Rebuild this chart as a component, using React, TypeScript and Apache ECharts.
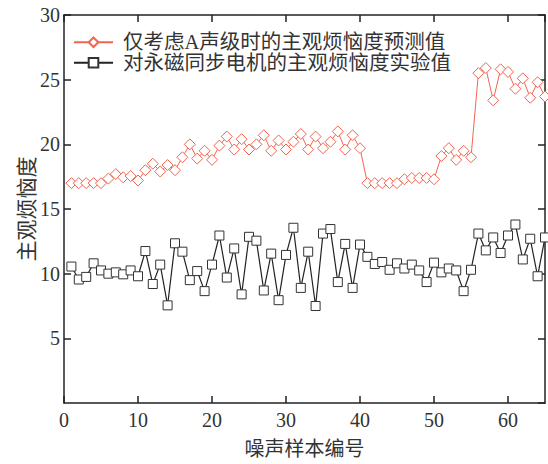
import React, { useEffect, useRef } from "react";
import * as echarts from "echarts";

const sampleIds: number[] = Array.from({ length: 65 }, (_, i) => i + 1);

const predicted: number[] = [
  17.0, 17.0, 17.0, 17.0, 17.0, 17.35, 17.7, 17.45, 17.55, 17.2,
  18.0, 18.5, 17.9, 18.4, 18.0, 19.0, 20.0, 18.9, 19.5, 18.8,
  19.9, 20.6, 19.6, 20.4, 19.6, 20.0, 20.7, 19.5, 20.3, 19.6,
  20.2, 20.8, 19.6, 20.6, 19.7, 20.2, 21.0, 19.6, 20.7, 19.7,
  17.0, 17.0, 17.0, 17.0, 17.0, 17.3, 17.4, 17.4, 17.4, 17.3,
  19.1, 19.7, 18.8, 19.5, 19.0, 25.5, 25.9, 23.4, 25.8, 25.6,
  24.3, 25.1, 23.6, 24.8, 23.7,
];

const measured: number[] = [
  10.55, 9.55, 9.75, 10.8, 10.25, 10.0, 10.1, 9.95, 10.25, 9.8,
  11.75, 9.2, 10.7, 7.55, 12.35, 11.7, 9.5, 10.2, 8.65, 10.7,
  12.95, 9.7, 11.95, 8.4, 12.85, 12.55, 8.7, 11.55, 7.95, 11.45,
  13.55, 8.9, 11.7, 7.5, 13.1, 13.45, 9.35, 12.3, 8.9, 12.25,
  11.3, 10.75, 10.9, 10.3, 10.8, 10.4, 10.7, 10.25, 9.35, 10.85,
  10.1, 10.4, 10.25, 8.65, 10.3, 13.1, 11.8, 12.8, 11.6, 12.95,
  13.8, 11.1, 12.7, 9.8, 12.8,
];

const seriesNames = ["仅考虑A声级时的主观烦恼度预测值", "对永磁同步电机的主观烦恼度实验值"];
const xAxisName = "噪声样本编号";
const yAxisName = "主观烦恼度";

const FONT = "Liberation Serif, Noto Sans CJK SC";
const RED = "#f4634f";
const BLACK = "#222222";
const TEXT = "#333333";

export default function App() {
  const ref = useRef<HTMLDivElement>(null);

  useEffect(() => {
    if (!ref.current) return;
    const chart = echarts.init(ref.current, undefined, { renderer: "svg" });
    const axisLine = { show: true, onZero: false, lineStyle: { color: BLACK, width: 1.5 } };
    const axisTick = { show: true, inside: true, length: 7, lineStyle: { color: BLACK, width: 1.5 } };
    chart.setOption({
      animation: false,
      backgroundColor: "#ffffff",
      grid: { left: 64, right: 3, top: 15, bottom: 61, containLabel: false },
      legend: {
        orient: "vertical",
        left: 73,
        top: 32,
        padding: 0,
        itemWidth: 39,
        itemHeight: 12,
        itemGap: 0,
        textStyle: { fontFamily: FONT, fontSize: 20.5, color: TEXT, lineHeight: 20.5, padding: [0, 0, 0, 5] },
        data: seriesNames,
      },
      xAxis: [
        {
          type: "value",
          min: 0,
          max: 65,
          interval: 10,
          position: "bottom",
          name: xAxisName,
          nameLocation: "middle",
          nameGap: 36,
          nameMoveOverlap: false,
          nameTextStyle: { fontFamily: FONT, fontSize: 20, color: TEXT },
          axisLine,
          axisTick,
          splitLine: { show: false },
          axisLabel: {
            fontFamily: FONT,
            fontSize: 20,
            color: TEXT,
            margin: 7,
            showMaxLabel: false,
          },
        },
        {
          type: "value",
          min: 0,
          max: 65,
          interval: 10,
          position: "top",
          axisLine,
          axisTick,
          splitLine: { show: false },
          axisLabel: { show: false },
        },
      ],
      yAxis: [
        {
          type: "value",
          min: 0,
          max: 30,
          interval: 5,
          position: "left",
          name: yAxisName,
          nameLocation: "middle",
          nameGap: 27,
          nameMoveOverlap: false,
          nameTextStyle: { fontFamily: FONT, fontSize: 21, color: TEXT },
          axisLine,
          axisTick,
          splitLine: { show: false },
          axisLabel: {
            fontFamily: FONT,
            fontSize: 20,
            color: TEXT,
            margin: 4,
            showMinLabel: false,
          },
        },
        {
          type: "value",
          min: 0,
          max: 30,
          interval: 5,
          position: "right",
          axisLine,
          axisTick,
          splitLine: { show: false },
          axisLabel: { show: false },
        },
      ],
      series: [
        {
          name: seriesNames[0],
          type: "line",
          xAxisIndex: 0,
          yAxisIndex: 0,
          data: sampleIds.map((x, i) => [x, predicted[i]]),
          symbol: "diamond",
          symbolSize: 11,
          showAllSymbol: true,
          clip: false,
          lineStyle: { color: RED, width: 1 },
          itemStyle: { color: "#ffffff", borderColor: RED, borderWidth: 1 },
          color: RED,
        },
        {
          name: seriesNames[1],
          type: "line",
          xAxisIndex: 0,
          yAxisIndex: 0,
          data: sampleIds.map((x, i) => [x, measured[i]]),
          symbol: "rect",
          symbolSize: 9,
          showAllSymbol: true,
          clip: false,
          lineStyle: { color: BLACK, width: 1.2 },
          itemStyle: { color: "#ffffff", borderColor: "#333333", borderWidth: 1 },
          color: BLACK,
        },
      ],
    });
    return () => chart.dispose();
  }, []);

  return (
    <div
      ref={ref}
      style={{ position: "absolute", left: 0, top: 0, width: 548, height: 464, background: "#fff" }}
    />
  );
}
